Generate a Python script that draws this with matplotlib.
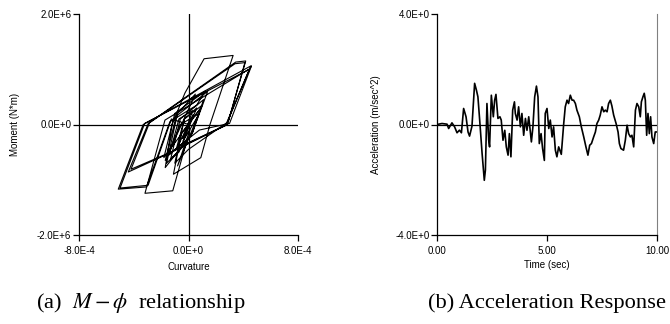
import matplotlib
matplotlib.use("Agg")
import matplotlib.pyplot as plt
import numpy as np

plt.rcParams['font.family'] = ['Liberation Sans', 'DejaVu Sans']
plt.rcParams['mathtext.fontset'] = 'stix'

# ---- data: moment-curvature path (curvature in 1e-4, moment in 1e6) ----
curv_e4 = [0.0, 0.35, -0.45, 0.25, -0.9, -0.3, 0.6, -0.7, -1.3, -0.6, 1.1, 0.3,
           -1.7, -1.2, -0.26, 1.14, 3.26, 1.57, 0.9, -1.1, -0.5, 0.9, -1.8, -1.0,
           1.2, 0.6, -1.36, -3.07, -5.13, -3.31, 4.55, 2.77, -1.4, -4.40, -2.94,
           3.45, 4.18, 2.9, 0.0, -1.0, -0.3, 1.0, -0.8, 0.1, -1.15, -3.18, -1.72,
           4.48, 4.6, 3.0, 0.8, -1.5, -0.6, 0.8, -0.4, 0.0,
           -1.25, -2.95, -5.0, -3.2, 4.45, 2.7, -1.3, -4.2, -2.85, 3.4, 4.12, 2.85,
           -0.2, -1.6, -0.8, 0.5, -1.7, -0.9, 1.4, 0.2, -1.4, -0.7, 0.3, -0.2, 0.0]
moment_e6 = [0.0, 0.18, -0.25, 0.12, -0.45, 0.1, 0.3, -0.5, -0.62, 0.1, 0.45, -0.15,
             -0.78, 0.0, 0.57, 1.19, 1.25, 0.0, -0.6, -0.9, -0.15, 0.3, -0.6, 0.2,
             0.6, 0.35, 0.05, -1.13, -1.17, 0.0, 1.06, 0.0, -0.52, -0.86, 0.02,
             1.13, 1.15, 0.05, -0.45, -0.7, 0.1, 0.35, -0.75, -0.1, -1.2, -1.245, 0.08,
             1.01, 1.06, 0.02, -0.1, -0.55, 0.0, 0.2, -0.3, 0.0,
             0.1, -1.1, -1.15, 0.02, 1.0, -0.02, -0.5, -0.81, 0.03, 1.1, 1.12, 0.0,
             -0.35, -0.7, 0.2, 0.55, -0.65, 0.15, 0.6, -0.2, -0.55, 0.1, 0.25, -0.1, 0.0]

# ---- data: acceleration response ----
time_s = [0.0, 0.227, 0.455, 0.53, 0.68, 0.80, 0.91, 1.02, 1.11, 1.21, 1.32, 1.41,
          1.48, 1.59, 1.71, 1.79, 1.86, 1.94, 2.05, 2.15, 2.20, 2.27, 2.35, 2.39,
          2.47, 2.56, 2.62, 2.68, 2.77, 2.86, 2.92, 3.00, 3.08, 3.15, 3.23, 3.29,
          3.36, 3.44, 3.52, 3.56, 3.64, 3.71, 3.79, 3.86, 3.94, 4.02, 4.09, 4.17,
          4.29, 4.36, 4.44, 4.52, 4.59, 4.65, 4.73, 4.80, 4.88, 4.92, 5.00, 5.08,
          5.15, 5.23, 5.30, 5.38, 5.45, 5.53, 5.65, 5.76, 5.83, 5.91, 5.98, 6.06,
          6.14, 6.21, 6.29, 6.36, 6.47, 6.56, 6.67, 6.77, 6.86, 6.94, 7.02, 7.12,
          7.20, 7.27, 7.35, 7.42, 7.50, 7.58, 7.65, 7.73, 7.80, 7.88, 7.95, 8.03,
          8.14, 8.23, 8.29, 8.36, 8.48, 8.56, 8.64, 8.71, 8.79, 8.86, 8.94, 9.02,
          9.09, 9.17, 9.24, 9.29, 9.36, 9.42, 9.47, 9.53, 9.59, 9.65, 9.71, 9.77,
          9.85, 9.92, 10.0]
accel = [0.0, 0.036, 0.012, -0.145, 0.06, -0.085, -0.30, -0.205, -0.30, 0.58, 0.28, -0.27,
         -0.42, -0.06, 1.49, 1.25, 1.00, 0.16, -1.05, -2.02, -1.65, 0.76, -0.57, -0.81,
         1.06, 0.28, 0.88, 1.09, 0.22, 0.28, 0.16, -0.57, -0.21, -0.81, -1.11, -0.33,
         -1.17, 0.52, 0.82, 0.40, 0.16, 0.64, -0.085, 0.40, -0.39, 0.22, -0.21, 0.28,
         -0.63, -0.085, 1.00, 1.39, 1.00, -0.69, -0.33, -0.87, -1.30, 0.40, 0.58, -0.145,
         0.16, -0.45, -0.085, -0.93, -1.17, -0.81, -1.08, 0.036, 0.64, 0.88, 0.76, 1.06,
         0.88, 0.88, 0.76, 0.52, 0.28, -0.085, -0.45, -0.81, -1.11, -0.75, -0.69, -0.45,
         -0.27, 0.036, 0.16, 0.34, 0.64, 0.46, 0.52, 0.46, 0.76, 0.88, 0.67, 0.34,
         0.036, -0.27, -0.69, -0.87, -0.93, -0.57, -0.024, -0.33, -0.45, -0.39, -0.81, 0.52,
         0.76, 0.64, 0.28, 0.82, 1.00, 1.13, 0.88, -0.39, 0.40, -0.33, 0.28, -0.45,
         -0.69, -0.27, -0.27]

# ---- ticks ----
mc_xticks = [-8e-4, 0.0, 8e-4]
mc_xlabels = ["-8.0E-4", "0.0E+0", "8.0E-4"]
mc_yticks = [-2e6, 0.0, 2e6]
mc_ylabels = ["-2.0E+6", "0.0E+0", "2.0E+6"]
ac_xticks = [0.0, 5.0, 10.0]
ac_xlabels = ["0.00", "5.00", "10.00"]
ac_yticks = [-4.0, 0.0, 4.0]
ac_ylabels = ["-4.0E+0", "0.0E+0", "4.0E+0"]

curv = np.array(curv_e4) * 1e-4
moment = np.array(moment_e6) * 1e6

W, H = 670, 324
fig = plt.figure(figsize=(W / 100, H / 100), dpi=100)

def axes_px(x0, x1, y0, y1):
    return fig.add_axes([x0 / W, 1 - y1 / H, (x1 - x0) / W, (y1 - y0) / H])

fs = 7
# left panel
ax1 = axes_px(79, 298, 14, 235)
ax1.plot(curv, moment, color='black', lw=0.8)
ax1.axhline(0, color='black', lw=0.9)
ax1.axvline(0, color='black', lw=0.9)
ax1.set_xlim(-8e-4, 8e-4)
ax1.set_ylim(-2e6, 2e6)
ax1.set_xticks(mc_xticks, mc_xlabels)
ax1.set_yticks(mc_yticks, mc_ylabels)
ax1.spines['top'].set_visible(False)
ax1.spines['right'].set_visible(False)
ax1.set_xlabel("Curvature", fontsize=fs, labelpad=4)
ax1.set_ylabel("Moment (N*m)", fontsize=fs, labelpad=12)

# right panel
ax2 = axes_px(437, 657, 14, 235)
ax2.plot(time_s, accel, color='black', lw=1.2)
ax2.axhline(0, color='black', lw=0.9)
ax2.set_xlim(0, 10)
ax2.set_ylim(-4, 4)
ax2.set_xticks(ac_xticks, ac_xlabels)
ax2.set_yticks(ac_yticks, ac_ylabels)
ax2.spines['top'].set_visible(False)
ax2.spines['right'].set_color('#808080')
ax2.set_xlabel("Time (sec)", fontsize=fs, labelpad=3)
ax2.set_ylabel("Acceleration (m/sec^2)", fontsize=fs, labelpad=10)

for ax in (ax1, ax2):
    ax.tick_params(direction='out', length=4, width=0.9, labelsize=fs, pad=1.5, colors='black')
    ax.tick_params(axis='x', pad=4)
    ax.spines['left'].set_linewidth(0.9)
    ax.spines['bottom'].set_linewidth(0.9)
    ax.set_facecolor('white')

cap_kw = dict(fontsize=16.2, family='Liberation Serif', va='baseline', ha='left')
fig.text(36 / W, 1 - 308 / H, r"(a)  $M-\phi$  relationship", **cap_kw)
fig.text(428 / W, 1 - 308 / H, "(b) Acceleration Response", **cap_kw)

fig.savefig("out.png", dpi=100, facecolor='white')
